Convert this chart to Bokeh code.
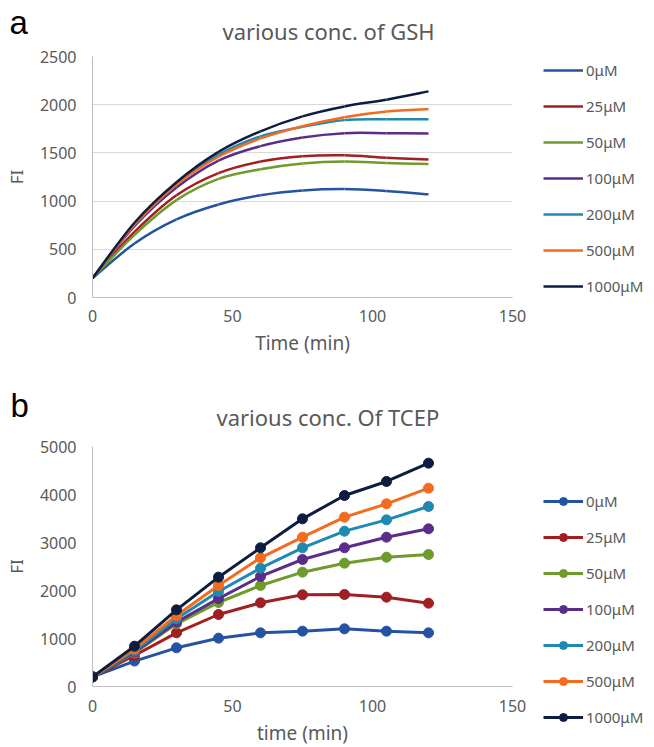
from bokeh.plotting import figure
from bokeh.models import Range1d, Legend, LegendItem, FixedTicker
from bokeh.layouts import column
from bokeh.embed import file_html
from bokeh.resources import INLINE
from bokeh.core.properties import value

# ---------------- data ----------------
times = [0, 15, 30, 45, 60, 75, 90, 105, 120]
conc_labels = ["0μM", "25μM", "50μM", "100μM", "200μM", "500μM", "1000μM"]
colors = ["#2552A3", "#A11E23", "#6E9B2B", "#5B2D8A", "#1F89B2", "#F26B1F", "#0D1D3F"]

# panel a: GSH
gsh_0uM = [200, 560, 810, 965, 1060, 1110, 1125, 1105, 1070]
gsh_25uM = [200, 680, 1060, 1290, 1410, 1465, 1475, 1450, 1431]
gsh_50uM = [200, 650, 1010, 1230, 1330, 1390, 1410, 1395, 1386]
gsh_100uM = [200, 740, 1140, 1420, 1570, 1660, 1705, 1705, 1700]
gsh_200uM = [200, 760, 1180, 1480, 1672, 1770, 1840, 1848, 1848]
gsh_500uM = [200, 755, 1170, 1460, 1650, 1776, 1870, 1930, 1955]
gsh_1000uM = [200, 775, 1195, 1510, 1724, 1879, 1982, 2052, 2138]
gsh_series = [gsh_0uM, gsh_25uM, gsh_50uM, gsh_100uM, gsh_200uM, gsh_500uM, gsh_1000uM]

# panel b: TCEP
tcep_0uM = [200, 530, 806, 1007, 1118, 1153, 1201, 1153, 1118]
tcep_25uM = [200, 646, 1118, 1500, 1743, 1910, 1917, 1861, 1736]
tcep_50uM = [200, 700, 1306, 1750, 2104, 2382, 2569, 2694, 2750]
tcep_100uM = [200, 720, 1340, 1830, 2292, 2646, 2889, 3111, 3285]
tcep_200uM = [200, 740, 1410, 1980, 2465, 2889, 3236, 3472, 3750]
tcep_500uM = [200, 780, 1479, 2104, 2681, 3111, 3528, 3806, 4132]
tcep_1000uM = [200, 840, 1597, 2278, 2889, 3493, 3979, 4271, 4653]
tcep_series = [tcep_0uM, tcep_25uM, tcep_50uM, tcep_100uM, tcep_200uM, tcep_500uM, tcep_1000uM]

x_ticks = [0, 50, 100, 150]
ya_ticks = [0, 500, 1000, 1500, 2000, 2500]
yb_ticks = [0, 1000, 2000, 3000, 4000, 5000]

FONT = "Noto Sans"
TXT = "#595959"
W = 654


def smooth_segments(xs, ys):
    """Bezier control points (Catmull-Rom style) for an Excel-like smoothed line."""
    n = len(xs)
    out = {k: [] for k in ("x0", "y0", "x1", "y1", "cx0", "cy0", "cx1", "cy1")}
    for i in range(n - 1):
        i0 = max(i - 1, 0)
        i3 = min(i + 2, n - 1)
        out["x0"].append(xs[i]); out["y0"].append(ys[i])
        out["x1"].append(xs[i + 1]); out["y1"].append(ys[i + 1])
        out["cx0"].append(xs[i] + (xs[i + 1] - xs[i0]) / 6)
        out["cy0"].append(ys[i] + (ys[i + 1] - ys[i0]) / 6)
        out["cx1"].append(xs[i + 1] - (xs[i3] - xs[i]) / 6)
        out["cy1"].append(ys[i + 1] - (ys[i3] - ys[i]) / 6)
    return out


def header(height, letter, lx, ly, title, tx, ty):
    """Strip above a panel holding the panel letter and the chart title (pixel coordinates)."""
    h = figure(width=W, height=height, output_backend="svg", toolbar_location=None,
               x_range=Range1d(0, W), y_range=Range1d(height, 0),
               x_axis_type=None, y_axis_type=None, min_border=0, title=None,
               frame_align=False)
    h.outline_line_color = None
    h.background_fill_color = "white"
    h.border_fill_color = "white"
    h.text(x=[lx], y=[ly], text=[letter], text_font=value("Liberation Sans"),
           text_font_size="33px", text_color="black", text_baseline="alphabetic",
           text_align="left")
    h.text(x=[tx], y=[ty], text=[title], text_font=value(FONT),
           text_font_size="22px", text_color=TXT, text_baseline="alphabetic",
           text_align="left")
    return h


def main_panel(frame_h, ymax, yticks, grid, xlabel, bottom):
    p = figure(frame_width=420, frame_height=frame_h, output_backend="svg",
               toolbar_location=None, title=None,
               x_range=Range1d(0, 150), y_range=Range1d(0, ymax),
               min_border_left=92, min_border_right=W - 92 - 420,
               min_border_top=12, min_border_bottom=bottom,
               x_axis_label=xlabel, y_axis_label="FI")
    p.xaxis.ticker = FixedTicker(ticks=x_ticks)
    p.yaxis.ticker = FixedTicker(ticks=yticks)
    for ax in (p.xaxis, p.yaxis):
        ax.axis_line_color = "#BFBFBF"
        ax.axis_line_width = 1
        ax.major_tick_line_color = None
        ax.minor_tick_line_color = None
        ax.major_label_text_font = FONT
        ax.major_label_text_font_size = "16px"
        ax.major_label_text_color = TXT
        ax.axis_label_text_font = FONT
        ax.axis_label_text_font_style = "normal"
        ax.axis_label_text_color = TXT
    p.xaxis.axis_label_text_font_size = "19px"
    p.yaxis.axis_label_text_font_size = "17px"
    p.yaxis.major_label_standoff = 10
    p.yaxis.axis_label_standoff = 9
    p.xgrid.grid_line_color = None
    if grid:
        p.ygrid.grid_line_color = "#D9D9D9"
        p.ygrid.grid_line_width = 1
    else:
        p.ygrid.grid_line_color = None
    p.outline_line_color = None
    p.background_fill_color = "white"
    p.border_fill_color = "white"
    return p


def make_legend(items, vy):
    return Legend(items=items, location=(31, vy), glyph_width=40, glyph_height=20,
                  label_height=21, spacing=15, label_standoff=3, padding=0, margin=0,
                  background_fill_alpha=0, border_line_alpha=0,
                  label_text_font=FONT, label_text_font_size="15px", label_text_color=TXT)


# ---------------- panel a ----------------
head_a = header(44, "a", 9, 21.5, "various conc. of GSH", 222, 30.5)
pa = main_panel(241, 2500, ya_ticks, True, "Time (min)", 86)
pa.xaxis.major_label_standoff = 6
pa.xaxis.axis_label_standoff = 5

items_a = []
for lab, col, ys in zip(conc_labels, colors, gsh_series):
    seg = smooth_segments(times, ys)
    r = pa.bezier(x0="x0", y0="y0", x1="x1", y1="y1", cx0="cx0", cy0="cy0", cx1="cx1", cy1="cy1",
                  source=seg, line_color=col, line_width=2.5)
    items_a.append(LegendItem(label=lab, renderers=[r]))
pa.add_layout(make_legend(items_a, 1), "right")

# ---------------- panel b ----------------
head_b = header(51, "b", 10, 22, "various conc. Of TCEP", 216, 33)
pb = main_panel(240, 5000, yb_ticks, False, "time (min)", 61)
pb.xaxis.major_label_standoff = 7
pb.xaxis.axis_label_standoff = 5

items_b = []
for lab, col, ys in zip(conc_labels, colors, tcep_series):
    rl = pb.line(times, ys, line_color=col, line_width=3)
    rc = pb.scatter(times, ys, marker="circle", size=10, fill_color=col, line_color=col)
    items_b.append(LegendItem(label=lab, renderers=[rl, rc]))
pb.add_layout(make_legend(items_b, -41), "right")

layout = column(head_a, pa, head_b, pb, spacing=0)
open("out.html", "w").write(file_html(layout, INLINE))
